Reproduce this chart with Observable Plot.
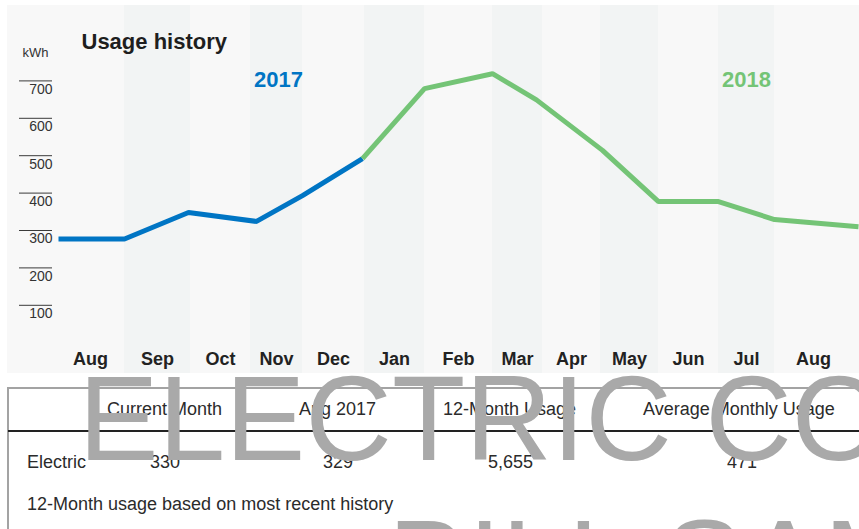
<!DOCTYPE html>
<html>
<head>
<meta charset="utf-8">
<script src="https://cdn.jsdelivr.net/npm/d3@7"></script>
<script src="https://cdn.jsdelivr.net/npm/@observablehq/plot@0.6"></script>
<style>
  html, body { margin: 0; padding: 0; background: #ffffff; width: 859px; height: 529px; overflow: hidden; }
  body { position: relative; font-family: "Liberation Sans", Arial, sans-serif; }
  #panel { position: absolute; left: 7px; top: 5px; width: 852px; height: 368px; background: #f8f8f8; }
  #overlay { position: absolute; left: 0; top: 0; }
</style>
</head>
<body>
<div id="panel"></div>
<svg id="overlay" width="859" height="529"></svg>
<script>
// ---- chart data ----
const months = ["Aug", "Sep", "Oct", "Nov", "Dec", "Jan", "Feb", "Mar", "Apr", "May", "Jun", "Jul", "Aug"];
// billing period boundaries (meter read dates), one more than months
const periodEdges = ["2017-07-19", "2017-08-22", "2017-09-24", "2017-10-24", "2017-11-19", "2017-12-20",
  "2018-01-19", "2018-02-22", "2018-03-19", "2018-04-17", "2018-05-16", "2018-06-15", "2018-07-13", "2018-08-21"];
// usage line points
const usageDates = ["2017-07-20", "2017-08-22", "2017-09-23", "2017-10-27", "2017-11-19", "2017-12-19",
  "2018-01-19", "2018-02-22", "2018-03-16", "2018-04-18", "2018-05-16", "2018-06-15", "2018-07-13", "2018-08-24"];
const usageKwh = [300, 300, 371, 347, 416, 515, 702, 742, 672, 537, 400, 400, 352, 333];
const yTicks = [100, 200, 300, 400, 500, 600, 700];
const years = ["2017", "2018"];
const yearLabelDates = ["2017-11-07", "2018-06-29"];
const yearSplitDate = "2017-12-19"; // last 2017 reading, shared by both series

// ---- table data ----
const tableHeaders = ["Current Month", "Aug 2017", "12-Month Usage", "Average Monthly Usage"];
const tableRowLabel = "Electric";
const tableValues = ["330", "329", "5,655", "471"];
const tableNote = "12-Month usage based on most recent history";
const watermarkLines = ["ELECTRIC COMPANY", "BILL SAMPLE"];

const blue = "#0075c4";
const green = "#74c476";

const periods = months.map((m, i) => ({
  month: m,
  index: i,
  start: new Date(periodEdges[i]),
  end: new Date(periodEdges[i + 1]),
  mid: new Date((+new Date(periodEdges[i]) + +new Date(periodEdges[i + 1])) / 2)
}));

const split = new Date(yearSplitDate);
const points = usageDates.map((d, i) => ({date: new Date(d), kWh: usageKwh[i]}));
const lineData = [
  ...points.filter(p => p.date <= split).map(p => ({...p, year: "2017"})),
  ...points.filter(p => p.date >= split).map(p => ({...p, year: "2018"}))
];

const chart = Plot.plot({
  width: 852,
  height: 368,
  marginLeft: 45,
  marginRight: 0,
  marginTop: 0,
  marginBottom: 0,
  style: {background: "transparent", fontFamily: "'Liberation Sans', Arial, sans-serif", overflow: "visible"},
  x: {type: "utc", domain: [new Date("2017-07-20"), new Date("2018-08-24")], range: [51, 851], axis: null},
  y: {domain: [0, 700], range: [345.7, 83.9]},
  color: {domain: years, range: [blue, green]},
  marks: [
    Plot.rect(periods.filter(p => p.index % 2 === 1), {x1: "start", x2: "end", fill: "#f2f4f4"}),
    Plot.axisY(yTicks, {anchor: "left", tickSize: 33, fill: "none", stroke: "#3a3a3a", strokeWidth: 1, dy: -8.5, label: null}),
    Plot.axisY(yTicks, {anchor: "left", tickSize: 0, tickPadding: 0, fill: "#333", fontSize: 14, label: null}),
    Plot.text(["kWh"], {frameAnchor: "top-left", dx: -30, dy: 51, lineAnchor: "bottom", textAnchor: "start", fontSize: 13, fill: "#333"}),
    Plot.text(["Usage history"], {frameAnchor: "top-left", dx: 29, dy: 43, lineAnchor: "bottom", textAnchor: "start", fontSize: 22, fontWeight: "bold", fill: "#1e1e1e"}),
    Plot.text(periods, {x: "mid", text: "month", frameAnchor: "bottom", lineAnchor: "bottom", dy: -9, fontSize: 18, fontWeight: "bold", fill: "#222"}),
    Plot.text(years, {x: (d, i) => new Date(yearLabelDates[i]), text: d => d, fill: d => d, frameAnchor: "top", lineAnchor: "bottom", dy: 81.5, fontSize: 22, fontWeight: "bold"}),
    Plot.line(lineData, {x: "date", y: "kWh", z: "year", stroke: "year", strokeWidth: 5, strokeLinejoin: "miter", strokeLinecap: "butt"})
  ]
});
document.getElementById("panel").appendChild(chart);

// ---- table + watermark (plain SVG text) ----
const svg = d3.select("#overlay");
const font = "'Liberation Sans', Arial, sans-serif";
svg.append("line").attr("x1", 7).attr("x2", 859).attr("y1", 388).attr("y2", 388).attr("stroke", "#a3a3a3").attr("stroke-width", 2);
svg.append("line").attr("x1", 8).attr("x2", 8).attr("y1", 387).attr("y2", 529).attr("stroke", "#a3a3a3").attr("stroke-width", 2);
svg.append("line").attr("x1", 8).attr("x2", 859).attr("y1", 431).attr("y2", 431).attr("stroke", "#222").attr("stroke-width", 2);

const headerX = [107, 299, 443, 643];
const valueX = [150, 323, 488, 727];
const t = (x, y, s) => svg.append("text").attr("x", x).attr("y", y).attr("font-family", font)
  .attr("font-size", 18).attr("fill", "#2b2b2b").text(s);
tableHeaders.forEach((h, i) => t(headerX[i], 415, h));
t(27, 468, tableRowLabel);
tableValues.forEach((v, i) => t(valueX[i], 468, v));
t(27, 510, tableNote);

const wm = svg.append("g").attr("font-family", font).attr("font-size", 120).attr("fill", "#a9a9a9");
wm.append("text").attr("x", 78.5).attr("y", 460).text(watermarkLines[0]);
wm.append("text").attr("x", 388).attr("y", 604).text(watermarkLines[1]);
</script>
</body>
</html>
